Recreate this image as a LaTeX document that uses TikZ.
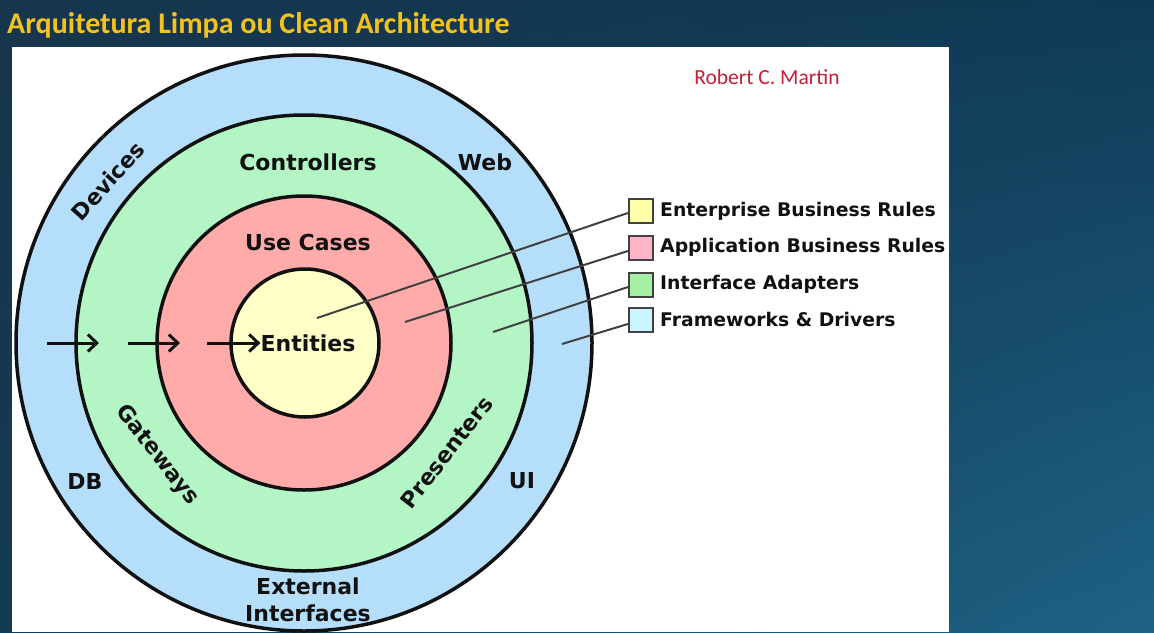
\documentclass[tikz,border=0pt]{standalone}
\usepackage{fontspec}
\setmainfont{DejaVu Sans}
\newfontfamily\calib{Carlito}
\usetikzlibrary{arrows.meta,shadings}
\definecolor{bgA}{HTML}{17354D}
\definecolor{bgB}{HTML}{0F3A55}
\definecolor{bgC}{HTML}{143A52}
\definecolor{bgD}{HTML}{1E6285}
\definecolor{blueF}{HTML}{B5DEFA}
\definecolor{greenF}{HTML}{B3F5C5}
\definecolor{redF}{HTML}{FFABA9}
\definecolor{yellowF}{HTML}{FFFFC8}
\definecolor{legY}{HTML}{FFFFAA}
\definecolor{legR}{HTML}{FFB3C6}
\definecolor{legG}{HTML}{A5F0A5}
\definecolor{legB}{HTML}{C8F5FF}
\definecolor{titleC}{HTML}{F2C21F}
\definecolor{authorC}{HTML}{C41E3A}
\definecolor{ink}{HTML}{111111}
\begin{document}
\begin{tikzpicture}[x=1pt,y=-1pt,
  ring/.style={circle,draw=ink,line width=3.5pt,inner sep=0pt},
  lbl/.style={font=\bfseries\fontsize{22}{25}\selectfont,text=ink,inner sep=0pt},
  legbox/.style={draw=ink!80,line width=2.2pt,minimum size=24pt,inner sep=0pt},
  legtext/.style={font=\bfseries\fontsize{18.8}{21}\selectfont,text=ink,anchor=west,inner sep=0pt},
  leader/.style={draw=ink!80,line width=2pt},
  flow/.style={draw=ink,line width=3pt,-{Straight Barb[length=9pt,width=17pt,line width=3pt]}}
]
\useasboundingbox (0,0) rectangle (1154,632);
\shade[upper left=bgA, upper right=bgB, lower left=bgC, lower right=bgD] (0,0) rectangle (1154,632);
\fill[white] (12,47) rectangle (949,632);
\node[anchor=west,inner sep=0pt,text=titleC,font=\calib\bfseries\fontsize{30}{33}\selectfont] (title) at (7,25) {Arquitetura Limpa ou Clean Architecture};
\node[inner sep=0pt,text=authorC,font=\calib\fontsize{21.5}{24}\selectfont] (author) at (767,77) {Robert C. Martin};

% rings
\node[ring,fill=blueF,minimum size=576pt] (fw) at (304,343) {};
\node[ring,fill=greenF,minimum size=456pt] (ia) at (304,343) {};
\node[ring,fill=redF,minimum size=294pt] (uc) at (304,343) {};
\node[ring,fill=yellowF,minimum size=148pt] (en) at (305,343) {};

% labels
\node[lbl] (ent) at (308,343) {Entities};
\node[lbl] (ucl) at (308,242) {Use Cases};
\node[lbl] (ctl) at (308,162) {Controllers};
\node[lbl] (web) at (485,162) {Web};
\node[lbl,rotate=48] (dev) at (108,181) {Devices};
\node[lbl,rotate=-52] (gw) at (157,455) {Gateways};
\node[lbl,rotate=52] (pr) at (447,452) {Presenters};
\node[lbl] (db) at (85,481) {DB};
\node[lbl] (ui) at (522,481) {UI};
\node[lbl,align=center,font=\bfseries\fontsize{22}{27}\selectfont] (ext) at (308,600) {External\\Interfaces};

% flow arrows
\coordinate (a1s) at (47,343);
\coordinate (a1e) at (99,343);
\coordinate (a2s) at (128,343);
\coordinate (a2e) at (180,343);
\coordinate (a3s) at (207,343);
\draw[flow] (a1s) -- (a1e);
\draw[flow] (a2s) -- (a2e);
\draw[flow] (a3s) -- (ent.west);

% legend
\node[legbox,fill=legY] (b1) at (641,211) {};
\node[legbox,fill=legR] (b2) at (641,248) {};
\node[legbox,fill=legG] (b3) at (641,285) {};
\node[legbox,fill=legB] (b4) at (641,320) {};
\node[legtext] (t1) at (660,211) {Enterprise Business Rules};
\node[legtext] (t2) at (660,247) {Application Business Rules};
\node[legtext] (t3) at (660,284) {Interface Adapters};
\node[legtext] (t4) at (660,319) {Frameworks \& Drivers};

\coordinate (p1) at (317,318);
\coordinate (p2) at (405,322);
\coordinate (p3) at (493,332);
\coordinate (p4) at (562,344);
\draw[leader] ([yshift=-2pt]b1.west) -- (p1);
\draw[leader] ([yshift=-3pt]b2.west) -- (p2);
\draw[leader] ([yshift=-2pt]b3.west) -- (p3);
\draw[leader] ([yshift=-4pt]b4.west) -- (p4);
\end{tikzpicture}
\end{document}
